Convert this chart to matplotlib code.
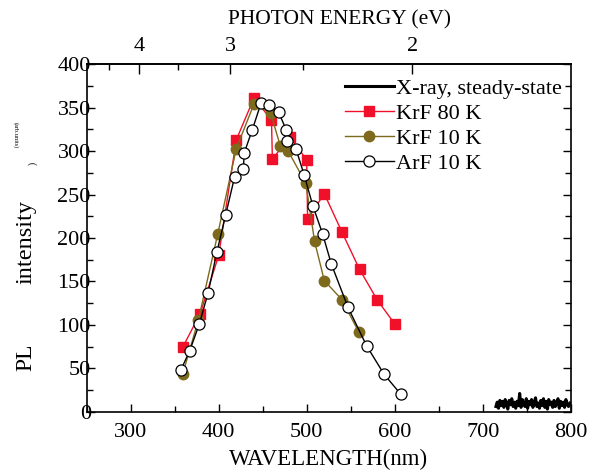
import numpy as np
import matplotlib
matplotlib.use("Agg")
import matplotlib.pyplot as plt
from matplotlib.ticker import MultipleLocator, FixedLocator

plt.rcParams['font.family'] = ['Liberation Serif', 'DejaVu Serif']
plt.rcParams['font.size'] = 16

# KrF excitation, 80 K
krf80_wl = [359, 379, 400, 420, 440, 460, 461, 481, 500, 501, 520, 540, 560, 580, 600]
krf80_pl = [74, 113, 180, 313, 361, 336, 291, 316, 290, 222, 251, 207, 164, 129, 101]

# KrF excitation, 10 K
krf10_wl = [359, 377, 399, 420, 440, 459, 470, 479, 499, 509, 520, 540, 559]
krf10_pl = [43, 106, 205, 303, 354, 344, 306, 300, 263, 196, 151, 129, 92]

# ArF excitation, 10 K
arf10_wl = [357, 367, 378, 388, 398, 408, 418, 428, 429, 438, 448, 457, 468, 477, 478,
            488, 497, 507, 518, 528, 547, 568, 588, 607]
arf10_pl = [48, 70, 101, 137, 184, 227, 270, 279, 298, 324, 355, 353, 345, 324, 312,
            302, 273, 237, 205, 170, 120, 76, 43, 20]

# X-ray steady-state (noisy trace near baseline)
xray_wl = [715, 716.5, 718, 719.5, 721, 722.5, 724, 725.5, 727, 728.5, 730, 731.5, 733,
           734.5, 736, 737.5, 739, 740.5, 742, 743.5, 745, 746.5, 748, 749.5, 751, 752.5,
           754, 755.5, 757, 758.5, 760, 761.5, 763, 764.5, 766, 767.5, 769, 770.5, 772,
           773.5, 775, 776.5, 778, 779.5, 781, 782.5, 784, 785.5, 787, 788.5, 790, 791.5,
           793, 794.5, 796, 797.5, 799]
xray_pl = [6, 11, 4, 13, 7, 12, 5, 14, 9, 3, 13, 8, 15, 6, 11, 4, 12, 7, 21, 5, 14, 9, 6,
           15, 4, 12, 8, 14, 5, 11, 16, 6, 10, 4, 13, 7, 15, 5, 12, 3, 14, 8, 11, 5, 13, 6,
           10, 15, 4, 12, 7, 11, 5, 14, 8, 6, 10]

wl_ticks = [300, 400, 500, 600, 700, 800]
ev_ticks = [4, 3, 2]
ev_minor = [4.5, 3.5, 2.5]

fig = plt.figure(figsize=(5.99, 4.70), dpi=100)
ax = fig.add_axes([0.1447, 0.124, 0.8081, 0.7392])

ax.plot(xray_wl, xray_pl, color='black', lw=2.2, label='X-ray, steady-state')
ax.plot(krf80_wl, krf80_pl, color='#f0102a', lw=1, marker='s', ms=6.5,
        mec='#f0102a', mfc='#f0102a', label='KrF 80 K')
ax.plot(krf10_wl, krf10_pl, color='#7d6a1c', lw=1, marker='o', ms=7.5,
        mec='#7d6a1c', mfc='#7d6a1c', label='KrF 10 K')
ax.plot(arf10_wl, arf10_pl, color='black', lw=1, marker='o', ms=8,
        mec='black', mfc='white', mew=0.9, label='ArF 10 K')

ax.set_xlim(250, 800)
ax.set_ylim(0, 400)
ax.xaxis.set_major_locator(FixedLocator(wl_ticks))
ax.xaxis.set_minor_locator(MultipleLocator(50))
ax.yaxis.set_major_locator(MultipleLocator(50))
ax.yaxis.set_minor_locator(MultipleLocator(25))
ax.tick_params(which='both', direction='in', right=True, top=False)
ax.tick_params(which='major', length=6, width=1)
ax.tick_params(which='minor', length=4, width=1)
ax.tick_params(axis='y', pad=-3)
ax.tick_params(axis='x', pad=8)
for s in ax.spines.values():
    s.set_linewidth(1.2)

ax.set_xlabel('WAVELENGTH(nm)', fontsize=16.5, labelpad=5)

sec = ax.secondary_xaxis('top', functions=(lambda x: 1240.0 / np.asarray(x, float),
                                           lambda e: 1240.0 / np.asarray(e, float)))
sec.xaxis.set_major_locator(FixedLocator(ev_ticks))
sec.xaxis.set_minor_locator(FixedLocator(ev_minor))
sec.tick_params(which='both', direction='in')
sec.tick_params(which='major', length=7, width=1, pad=6)
sec.tick_params(which='minor', length=4, width=1)
sec.spines['top'].set_linewidth(1.2)

fig.text(0.566, 0.958, 'PHOTON ENERGY (eV)', ha='center', va='center', fontsize=15.5)

fig.text(0.044, 0.239, 'PL', rotation=90, ha='center', va='center', fontsize=17)
fig.text(0.044, 0.485, 'intensity', rotation=90, ha='center', va='center', fontsize=17.5)
fig.text(0.026, 0.712, '(arb.units)', rotation=270, ha='center', va='center', fontsize=4.5)
fig.text(0.055, 0.653, ')', rotation=90, ha='center', va='center', fontsize=7)

leg = ax.legend(loc='upper right', frameon=False, fontsize=16, handlelength=2.2,
                handletextpad=0.1, labelspacing=0.2, borderaxespad=0.0,
                bbox_to_anchor=(1.0, 0.985))

fig.savefig('out.png', dpi=100)
